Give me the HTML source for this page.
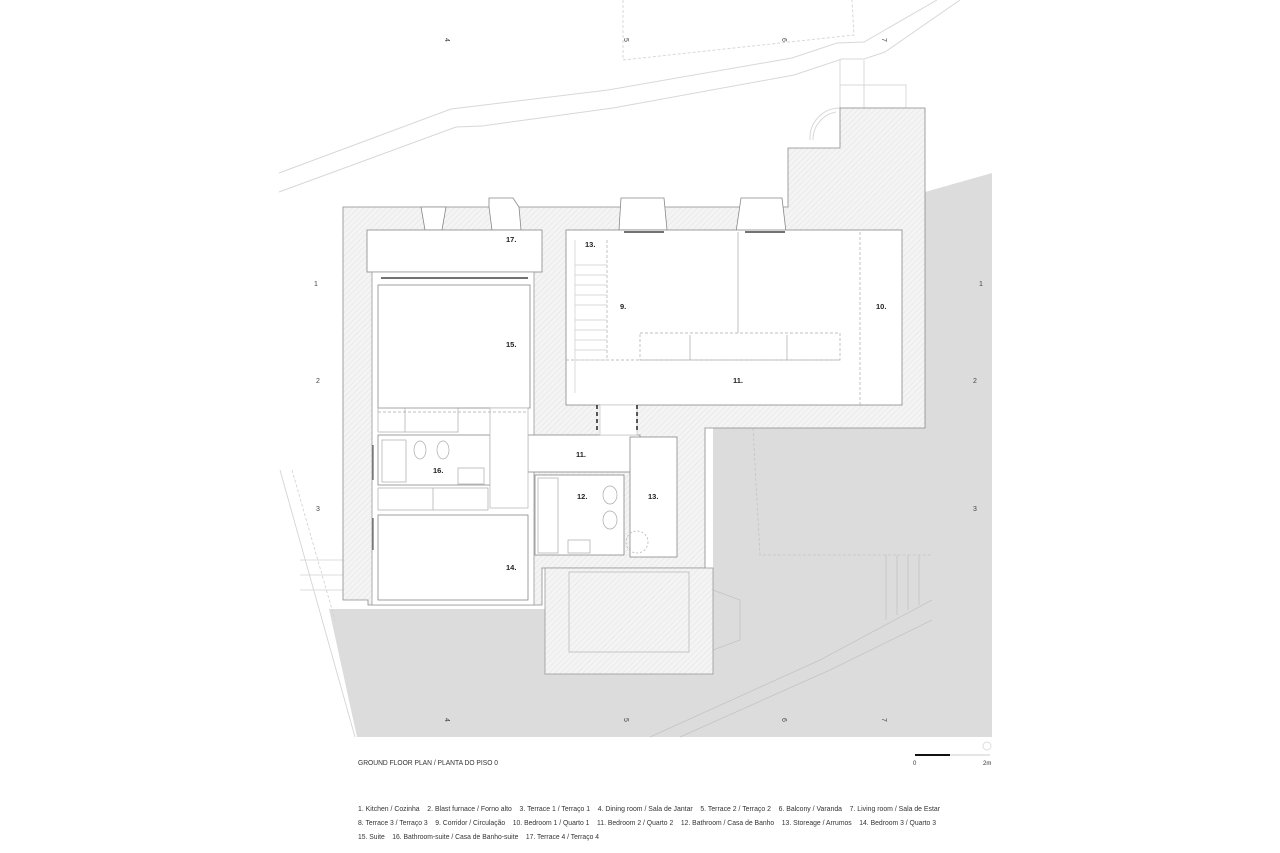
<!DOCTYPE html>
<html><head><meta charset="utf-8"><style>
html,body{margin:0;padding:0;background:#fff;}
svg{display:block;}
text{font-family:"Liberation Sans",sans-serif;white-space:pre;}
</style></head><body>
<svg width="1280" height="853" viewBox="0 0 1280 853" xmlns="http://www.w3.org/2000/svg" xml:space="preserve">
<defs>
<pattern id="h" width="4" height="4" patternUnits="userSpaceOnUse" patternTransform="rotate(45)">
<rect width="4" height="4" fill="#f4f4f4"/><line x1="0" y1="0" x2="0" y2="4" stroke="#e2e2e2" stroke-width="1"/>
</pattern>
</defs>
<g fill="none" stroke="#d8d8d8" stroke-width="1">
<polyline points="279,173 451,109 608,90 792,58 837,43 864,42 937,0"/>
<polyline points="279,192 456,127 482,126 613,108 794,75 842,59 864,59 885,52 960,0"/>
<polyline points="623,0 623,60 854,35 852,0" stroke-dasharray="3,2"/>
<line x1="840" y1="60" x2="840" y2="108"/><line x1="864" y1="60" x2="864" y2="108"/>
<rect x="840" y="85" width="66" height="23"/>
<path d="M840,108 A30,30 0 0 0 810,140"/><path d="M836,112 A28,28 0 0 0 813,140"/>
</g>
<polygon points="329,609 545,609 545,674 713,674 713,428 925,428 925,192 992,173 992,737 357,737" fill="#dcdcdc"/>
<g fill="none" stroke="#c4c4c4" stroke-width="0.8">
<polyline points="753,428 760,555 932,555" stroke-dasharray="3,2"/>
<line x1="886" y1="555" x2="886" y2="620"/><line x1="897" y1="555" x2="897" y2="615"/><line x1="908" y1="555" x2="908" y2="610"/><line x1="919" y1="555" x2="919" y2="605"/>
<polyline points="650,737 820,660 932,600"/>
<polyline points="680,737 830,670 932,620"/>
<polyline points="713,650 740,640 740,600 713,590"/>
</g>
<g fill="none" stroke="#d0d0d0" stroke-width="0.8">
<line x1="280" y1="470" x2="355" y2="737"/><line x1="292" y1="470" x2="335" y2="620" stroke-dasharray="3,2"/>
<line x1="300" y1="560" x2="368" y2="560"/><line x1="300" y1="575" x2="368" y2="575"/><line x1="300" y1="590" x2="368" y2="590"/>
</g>
<g fill="url(#h)" stroke="#8a8a8a" stroke-width="0.8">
<polygon points="343,207 542,207 788,207 788,148 840,148 840,108 925,108 925,428 705,428 705,568 542,568 542,605 368,605 368,600 343,600"/>
</g>
<rect x="545" y="568" width="168" height="106" fill="url(#h)" stroke="#999" stroke-width="0.8"/>
<rect x="569" y="572" width="120" height="80" fill="none" stroke="#bbb" stroke-width="0.8"/>
<g fill="#fff" stroke="#888" stroke-width="0.8">
<polygon points="421,207 446,207 442,230 425,230"/>
<polygon points="489,198 513,198 519,207 521,230 492,230 489,207"/>
<polygon points="621,198 664,198 667,230 619,230"/>
<polygon points="741,198 782,198 786,232 736,232"/>
</g>
<g fill="#fff" stroke="#888" stroke-width="0.8">
<rect x="367" y="230" width="175" height="42"/>
<rect x="372" y="272" width="162" height="333" stroke="#999"/>
<rect x="378" y="285" width="152" height="123"/>
<rect x="566" y="230" width="336" height="175"/>
<rect x="528" y="435" width="112" height="37"/>
<rect x="535" y="475" width="89" height="80"/>
<rect x="630" y="437" width="47" height="120"/>
<rect x="378" y="515" width="150" height="85"/>
<rect x="378" y="435" width="112" height="50"/>
<rect x="490" y="408" width="38" height="100" stroke="#bbb"/>
<rect x="600" y="405" width="37" height="30" stroke="#ccc"/>
</g>
<g fill="none" stroke="#aaa" stroke-width="0.7">
<line x1="607" y1="240" x2="607" y2="360" stroke-dasharray="3,2"/>
<line x1="738" y1="232" x2="738" y2="333"/>
<rect x="640" y="333" width="200" height="27" stroke-dasharray="3,2"/>
<line x1="690" y1="335" x2="690" y2="360"/><line x1="787" y1="335" x2="787" y2="360"/>
<line x1="566" y1="360" x2="840" y2="360" stroke-dasharray="3,2"/>
<line x1="860" y1="232" x2="860" y2="405" stroke-dasharray="3,2"/>
<g stroke="#ccc"><line x1="575" y1="265" x2="607" y2="265"/><line x1="575" y1="275" x2="607" y2="275"/><line x1="575" y1="285" x2="607" y2="285"/><line x1="575" y1="295" x2="607" y2="295"/><line x1="575" y1="305" x2="607" y2="305"/><line x1="575" y1="320" x2="607" y2="320"/><line x1="575" y1="330" x2="607" y2="330"/><line x1="575" y1="340" x2="607" y2="340"/><line x1="575" y1="350" x2="607" y2="350"/><line x1="575" y1="360" x2="607" y2="360"/><line x1="575" y1="240" x2="575" y2="393"/></g>
<rect x="378" y="408" width="80" height="24"/><line x1="405" y1="408" x2="405" y2="432"/>
<rect x="378" y="488" width="110" height="22"/><line x1="433" y1="488" x2="433" y2="510"/>
<rect x="382" y="440" width="24" height="42"/>
<ellipse cx="420" cy="450" rx="6" ry="9"/><ellipse cx="443" cy="450" rx="6" ry="9"/>
<rect x="458" y="468" width="26" height="16"/>
<rect x="538" y="478" width="20" height="75"/>
<ellipse cx="610" cy="495" rx="7" ry="9"/><ellipse cx="610" cy="520" rx="7" ry="9"/>
<rect x="568" y="540" width="22" height="13"/>
<circle cx="637" cy="542" r="11" stroke-dasharray="2,2"/>
<line x1="378" y1="412" x2="528" y2="412" stroke-dasharray="3,2"/>
</g>
<g stroke="#444" stroke-width="1.5">
<line x1="381" y1="278" x2="528" y2="278"/>
<line x1="624" y1="232" x2="664" y2="232"/><line x1="745" y1="232" x2="785" y2="232"/>
<line x1="373" y1="445" x2="373" y2="480" stroke-width="1"/><line x1="373" y1="518" x2="373" y2="550" stroke-width="1"/>
</g>
<g stroke="#222" stroke-width="1.5" stroke-dasharray="4,3">
<line x1="597" y1="405" x2="597" y2="430"/><line x1="637" y1="405" x2="637" y2="430"/>
</g>
<g font-size="7.5" font-weight="bold" fill="#222">
<text x="506" y="242">17.</text>
<text x="585" y="247">13.</text>
<text x="620" y="309">9.</text>
<text x="876" y="309">10.</text>
<text x="506" y="347">15.</text>
<text x="733" y="383">11.</text>
<text x="576" y="457">11.</text>
<text x="433" y="473">16.</text>
<text x="577" y="499">12.</text>
<text x="648" y="499">13.</text>
<text x="506" y="570">14.</text>
</g>
<g font-size="7" fill="#444">
<text x="446" y="43" transform="rotate(90 448 40)">4</text>
<text x="625" y="43" transform="rotate(90 627 40)">5</text>
<text x="783" y="43" transform="rotate(90 785 40)">6</text>
<text x="883" y="43" transform="rotate(90 885 40)">7</text>
<text x="446" y="723" transform="rotate(90 448 720)">4</text>
<text x="625" y="723" transform="rotate(90 627 720)">5</text>
<text x="783" y="723" transform="rotate(90 785 720)">6</text>
<text x="883" y="723" transform="rotate(90 885 720)">7</text>
<text x="314" y="286">1</text><text x="316" y="383">2</text><text x="316" y="511">3</text>
<text x="979" y="286">1</text><text x="973" y="383">2</text><text x="973" y="511">3</text>
</g>
<text x="358" y="765" font-size="7.5" fill="#333" textLength="140" lengthAdjust="spacingAndGlyphs">GROUND FLOOR PLAN / PLANTA DO PISO 0</text>
<line x1="915" y1="755" x2="950" y2="755" stroke="#111" stroke-width="2"/>
<line x1="950" y1="755" x2="990" y2="755" stroke="#ddd" stroke-width="1.5"/>
<text x="913" y="765" font-size="6" fill="#333">0</text><text x="983" y="765" font-size="6" fill="#333">2m</text>
<circle cx="987" cy="746" r="4" fill="none" stroke="#ddd"/>
<g font-size="7.5" fill="#333">
<text x="358" y="811" textLength="582" lengthAdjust="spacingAndGlyphs">1. Kitchen / Cozinha    2. Blast furnace / Forno alto    3. Terrace 1 / Terraço 1    4. Dining room / Sala de Jantar    5. Terrace 2 / Terraço 2    6. Balcony / Varanda    7. Living room / Sala de Estar</text>
<text x="358" y="825" textLength="578" lengthAdjust="spacingAndGlyphs">8. Terrace 3 / Terraço 3    9. Corridor / Circulação    10. Bedroom 1 / Quarto 1    11. Bedroom 2 / Quarto 2    12. Bathroom / Casa de Banho    13. Storeage / Arrumos    14. Bedroom 3 / Quarto 3</text>
<text x="358" y="839" textLength="241" lengthAdjust="spacingAndGlyphs">15. Suite    16. Bathroom-suite / Casa de Banho-suite    17. Terrace 4 / Terraço 4</text>
</g>
</svg>
</body></html>
